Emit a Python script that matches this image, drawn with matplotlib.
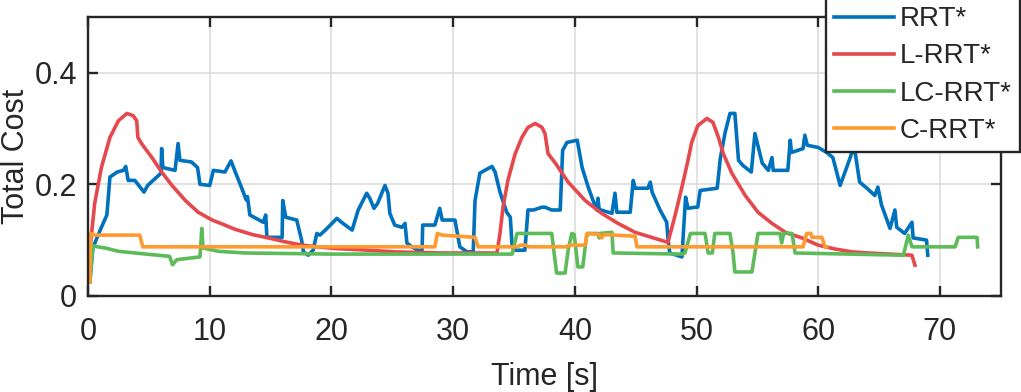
import matplotlib
matplotlib.use("Agg")
import matplotlib.pyplot as plt

# RRT*
rrt_x = [0.15, 0.4, 1.0, 1.55, 1.8, 2.4, 2.9, 3.1, 3.3, 3.85, 4.6, 4.9, 5.5, 6.0, 6.05, 6.15,
         7.15, 7.4, 7.55, 8.5, 9.0, 9.2, 10.0, 10.3, 11.25, 11.75, 12.05, 12.6, 13.0, 13.1,
         13.3, 14.4, 14.6, 14.7, 15.95, 16.0, 16.25, 17.15, 17.55, 17.7, 18.1, 18.5, 18.8,
         19.05, 19.5, 20.05, 20.45, 20.95, 21.7, 22.2, 22.9, 23.15, 23.5, 23.8, 24.4, 24.65,
         24.8, 25.2, 25.8, 26.05, 26.2, 26.6, 27.1, 27.45, 27.5, 28.5, 28.9, 29.1, 30.15,
         30.55, 31.15, 31.65, 31.8, 32.2, 32.6, 33.2, 33.45, 33.85, 34.4, 34.7, 34.85, 35.1,
         35.9, 36.15, 36.6, 37.3, 37.55, 38.1, 38.8, 39.0, 39.35, 40.2, 40.6, 41.1, 41.5,
         41.8, 41.9, 42.0, 43.05, 43.3, 43.45, 44.55, 44.8, 44.95, 46.0, 46.2, 46.35, 47.0,
         47.55, 47.65, 47.8, 48.8, 49.1, 49.3, 49.9, 50.1, 50.3, 51.7, 51.95, 52.35, 52.75,
         53.15, 53.45, 53.8, 54.5, 54.8, 55.4, 55.9, 56.2, 56.3, 57.5, 57.7, 57.8, 58.75,
         58.9, 59.1, 60.0, 60.7, 61.2, 61.8, 62.45, 62.85, 63.0, 63.4, 64.0, 64.65, 64.9,
         65.2, 65.9, 66.3, 66.45, 67.1, 67.7, 67.8, 68.9, 69.0]
rrt_y = [0.025, 0.086, 0.118, 0.145, 0.213, 0.222, 0.225, 0.232, 0.207, 0.207, 0.186, 0.198,
         0.21, 0.22, 0.264, 0.23, 0.225, 0.273, 0.243, 0.24, 0.23, 0.2, 0.198, 0.225, 0.222,
         0.242, 0.225, 0.195, 0.172, 0.178, 0.145, 0.132, 0.145, 0.105, 0.105, 0.171, 0.141,
         0.136, 0.1, 0.079, 0.073, 0.082, 0.112, 0.109, 0.118, 0.13, 0.139, 0.13, 0.118,
         0.154, 0.184, 0.175, 0.157, 0.166, 0.198, 0.184, 0.148, 0.127, 0.123, 0.13, 0.095,
         0.088, 0.082, 0.082, 0.127, 0.127, 0.157, 0.136, 0.136, 0.088, 0.079, 0.079, 0.171,
         0.22, 0.225, 0.232, 0.222, 0.186, 0.15, 0.141, 0.088, 0.082, 0.082, 0.154, 0.154,
         0.159, 0.159, 0.154, 0.154, 0.261, 0.275, 0.279, 0.23, 0.195, 0.171, 0.154, 0.175,
         0.155, 0.148, 0.184, 0.15, 0.15, 0.207, 0.193, 0.193, 0.204, 0.186, 0.154, 0.132,
         0.104, 0.077, 0.07, 0.177, 0.157, 0.159, 0.159, 0.189, 0.193, 0.246, 0.293, 0.327,
         0.327, 0.243, 0.234, 0.222, 0.291, 0.238, 0.225, 0.248, 0.225, 0.225, 0.279, 0.257,
         0.264, 0.288, 0.27, 0.266, 0.257, 0.248, 0.198, 0.237, 0.262, 0.262, 0.204, 0.193,
         0.18, 0.195, 0.163, 0.121, 0.154, 0.123, 0.112, 0.132, 0.104, 0.1, 0.073]

# L-RRT*
lrrt_x = [0.05, 0.55, 1.1, 1.8, 2.5, 3.2, 3.7, 4.0, 4.1, 4.4, 5.25, 6.05, 6.9, 8.0, 9.05,
          10.2, 11.25, 12.0, 13.5, 14.8, 16.2, 17.6, 18.9, 20.3, 23.0, 25.2, 29.0, 33.6,
          33.85, 34.1, 34.5, 35.1, 35.65, 36.15, 36.75, 37.3, 37.55, 37.8, 38.4, 39.45, 40.85,
          42.2, 43.55, 44.95, 46.3, 47.65, 48.2, 48.8, 49.3, 49.6, 50.1, 50.85, 51.35, 51.8,
          52.2, 52.9, 54.0, 55.05, 56.2, 57.3, 58.65, 60.0, 61.4, 62.8, 64.1, 67.7, 67.95]
lrrt_y = [0.06, 0.166, 0.23, 0.284, 0.314, 0.327, 0.323, 0.314, 0.284, 0.273, 0.248, 0.222,
          0.198, 0.171, 0.15, 0.136, 0.127, 0.12, 0.11, 0.104, 0.097, 0.091, 0.088, 0.085,
          0.082, 0.079, 0.077, 0.077, 0.112, 0.159, 0.207, 0.255, 0.284, 0.302, 0.309, 0.302,
          0.291, 0.255, 0.238, 0.204, 0.171, 0.148, 0.13, 0.114, 0.105, 0.096, 0.141, 0.195,
          0.243, 0.275, 0.305, 0.318, 0.311, 0.284, 0.255, 0.22, 0.18, 0.15, 0.13, 0.114,
          0.104, 0.091, 0.084, 0.079, 0.077, 0.073, 0.055]

# LC-RRT*
lcrrt_x = [0.15, 0.35, 0.4, 0.8, 1.4, 2.5, 3.85, 5.25, 6.7, 6.95, 7.3, 9.2, 9.35, 9.45, 10.7,
           12.9, 20.0, 34.85, 35.25, 38.1, 38.4, 38.5, 39.2, 39.45, 39.75, 39.95, 40.25, 40.65,
           40.95, 41.1, 41.9, 42.0, 42.1, 43.05, 43.15, 48.8, 49.05, 49.5, 50.7, 50.95, 51.3,
           51.5, 52.75, 53.0, 53.15, 54.55, 54.8, 55.05, 56.85, 57.0, 57.15, 57.85, 58.1, 67.0,
           67.3, 67.4, 67.7, 71.25, 71.5, 73.05, 73.1]
lcrrt_y = [0.025, 0.077, 0.09, 0.088, 0.086, 0.08, 0.077, 0.074, 0.071, 0.056, 0.065, 0.07,
           0.121, 0.086, 0.08, 0.077, 0.075, 0.075, 0.112, 0.112, 0.059, 0.041, 0.041, 0.082,
           0.112, 0.11, 0.052, 0.052, 0.105, 0.112, 0.112, 0.104, 0.112, 0.114, 0.077, 0.075,
           0.077, 0.112, 0.112, 0.077, 0.077, 0.112, 0.112, 0.077, 0.043, 0.043, 0.077, 0.112,
           0.112, 0.095, 0.112, 0.112, 0.077, 0.073, 0.1, 0.109, 0.088, 0.088, 0.105, 0.105,
           0.088]

# C-RRT*
crrt_x = [0.15, 0.2, 0.55, 4.25, 4.5, 28.5, 28.7, 29.1, 31.8, 32.05, 35.3, 35.5, 36.0, 36.2,
          39.3, 39.6, 40.85, 41.0, 42.0, 42.2, 42.4, 44.95, 45.1, 58.75, 59.05, 59.4, 59.5,
          60.3, 60.55, 60.7]
crrt_y = [0.025, 0.112, 0.109, 0.109, 0.088, 0.088, 0.112, 0.109, 0.105, 0.088, 0.088, 0.091,
          0.091, 0.088, 0.088, 0.091, 0.091, 0.112, 0.11, 0.104, 0.11, 0.107, 0.088, 0.088,
          0.112, 0.112, 0.105, 0.105, 0.088, 0.088]

series = [
    ("RRT*", rrt_x, rrt_y, "#0072BD"),
    ("L-RRT*", lrrt_x, lrrt_y, "#E5484D"),
    ("LC-RRT*", lcrrt_x, lcrrt_y, "#5DBB5A"),
    ("C-RRT*", crrt_x, crrt_y, "#FF9A2E"),
]

plt.rcParams["font.family"] = ["Liberation Sans", "DejaVu Sans"]
dark = "#262626"

fig = plt.figure(figsize=(10.21, 3.92), dpi=100)
ax = fig.add_axes([0.0862, 0.245, 0.894, 0.712])

for name, xs, ys, col in series:
    ax.plot(xs, ys, color=col, lw=2.6, label=name)

ax.set_xlim(0, 75)
ax.set_ylim(0, 0.5)
ax.set_xticks([0, 10, 20, 30, 40, 50, 60, 70])
ax.set_yticks([0, 0.2, 0.4])
ax.set_yticklabels(["0", "0.2", "0.4"])
ax.grid(True, color="#DDDDDD", lw=1.2)
ax.set_axisbelow(True)

for s in ax.spines.values():
    s.set_color(dark)
    s.set_linewidth(1.7)
ax.tick_params(direction="in", length=7, width=1.7, colors=dark, labelsize=22,
               top=True, right=True)
ax.tick_params(axis="x", pad=15)
ax.tick_params(axis="y", pad=8)

ax.set_xlabel("Time [s]", fontsize=22, color=dark, labelpad=11)
ax.set_ylabel("Total Cost", fontsize=22, color=dark)
ax.yaxis.set_label_coords(-0.063, 0.5)

leg = fig.legend(loc="upper right", bbox_to_anchor=(0.999, 1.005), fontsize=20,
                 frameon=True, fancybox=False, framealpha=1, edgecolor=dark,
                 handlelength=2.15, handletextpad=0.2, labelspacing=0.4,
                 borderpad=0.3, borderaxespad=0)
leg.get_frame().set_linewidth(1.7)
for t in leg.get_texts():
    t.set_color(dark)

fig.savefig("out.png", dpi=100)
